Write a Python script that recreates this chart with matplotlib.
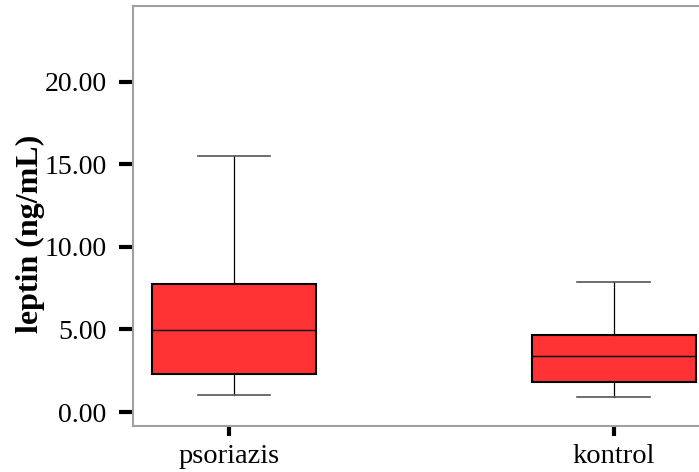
import matplotlib
matplotlib.use("Agg")
import matplotlib.pyplot as plt

groups = ["psoriazis", "kontrol"]
whislo = [1.03, 0.93]
q1 = [2.28, 1.80]
med = [4.95, 3.39]
q3 = [7.78, 4.65]
whishi = [15.53, 7.90]
yticks = [0, 5, 10, 15, 20]
yticklabels = ["0.00", "5.00", "10.00", "15.00", "20.00"]

plt.rcParams['font.family'] = ['Liberation Serif', 'DejaVu Serif']

stats = []
for i, g in enumerate(groups):
    stats.append(dict(label=g, whislo=whislo[i], q1=q1[i], med=med[i],
                      q3=q3[i], whishi=whishi[i], fliers=[]))

fig = plt.figure(figsize=(6.99, 4.72), dpi=100)
ax = fig.add_axes([133/699, 46.3/472, (714.5-133)/699, (466.3-46.3)/472])

ax.bxp(stats, positions=[0, 1], widths=0.432, patch_artist=True, showfliers=False,
       boxprops=dict(facecolor='#ff3333', edgecolor='black', linewidth=1.5),
       medianprops=dict(color='black', linewidth=1),
       whiskerprops=dict(color='black', linewidth=0.9),
       capprops=dict(color='#555555', linewidth=1.2),
       capwidths=0.19)

ax.set_xlim(-0.266, 1.266)
ax.set_ylim(-0.83, 24.62)
ax.set_yticks(yticks)
ax.set_yticklabels(yticklabels)
ax.set_xticks([-0.013, 1])
ax.set_xticklabels(groups)

for s in ax.spines.values():
    s.set_color('#a0a0a0')
    s.set_linewidth(1.5)

ax.tick_params(axis='y', direction='out', length=10, width=3, color='black',
               labelsize=20, pad=9)
ax.tick_params(axis='x', direction='out', length=7, width=3, color='black',
               labelsize=20.5, pad=6)
ax.set_ylabel("leptin (ng/mL)", fontsize=23, fontweight='bold')
ax.yaxis.set_label_coords(-0.151, 0.457)

fig.savefig("out.png", dpi=100)
